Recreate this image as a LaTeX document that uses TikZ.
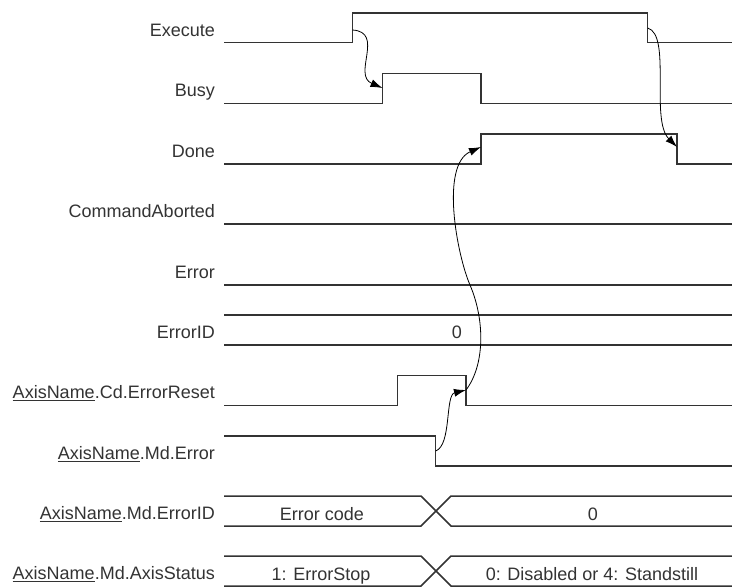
\documentclass[tikz,border=0pt]{standalone}
\usepackage{fontspec}
\setmainfont{Liberation Sans}
\usepackage{xcolor}
\usetikzlibrary{arrows.meta}

\definecolor{sigline}{HTML}{333333}
\newcommand{\axname}{\underline{AxisName}}

\begin{document}
\begin{tikzpicture}[
  x=1pt, y=-1pt,
  signal/.style={draw=sigline, line width=1.5pt},
  signame/.style={anchor=base east, inner sep=0pt, text=sigline, font=\fontsize{18}{20}\selectfont},
  busval/.style={anchor=base, inner sep=0pt, text=sigline, font=\fontsize{18}{20}\selectfont},
  cause/.style={-{Latex[length=12pt, width=8pt]}, line width=0.8pt, black}
]
  \useasboundingbox (0,0) rectangle (732,588);

  % Signal names
  \node[signame] (nExe)  at (215, 36.2)  {Execute};
  \node[signame] (nBusy) at (215, 96.8)  {Busy};
  \node[signame] (nDone) at (215, 157.5) {Done};
  \node[signame] (nAbt)  at (215, 217.5) {CommandAborted};
  \node[signame] (nErr)  at (215, 278.5) {Error};
  \node[signame] (nErrID) at (215, 338.5) {ErrorID};
  \node[signame] (nRst)  at (215, 399)   {\axname.Cd.ErrorReset};
  \node[signame] (nMdErr) at (215, 459.5) {\axname.Md.Error};
  \node[signame] (nMdID) at (215, 519.5) {\axname.Md.ErrorID};
  \node[signame] (nStat) at (215, 579.5) {\axname.Md.AxisStatus};

  % Bit signals
  \draw[signal] (224,42.7) -- (352.5,42.7) |- (647.7,13) |- (732,42.7);
  \draw[signal] (224,103.3) -- (382.7,103.3) |- (481,73.3) |- (732,103.3);
  \draw[signal] (224,164) -- (481,164) |- (677,134) |- (732,164);
  \draw[signal] (224,224) -- (732,224);
  \draw[signal] (224,285) -- (732,285);
  \draw[signal] (224,405.7) -- (397.7,405.7) |- (466,375.7) |- (732,405.7);
  \draw[signal] (224,436) -- (435.7,436) |- (732,466);

  % Word signals
  \draw[signal] (224,315) -- (732,315);
  \draw[signal] (224,345) -- (732,345);
  \node[busval] (vErrID) at (457, 339) {0};

  \draw[signal] (224,496) -- (421,496) -- (451,526) -- (732,526);
  \draw[signal] (224,526) -- (421,526) -- (451,496) -- (732,496);
  \node[busval] (vCode) at (322, 520) {Error code};
  \node[busval] (vZero) at (593, 520) {0};

  \draw[signal] (224,556) -- (421,556) -- (451,586) -- (732,586);
  \draw[signal] (224,586) -- (421,586) -- (451,556) -- (732,556);
  \node[busval] (vStop) at (321, 580) {1: ErrorStop};
  \node[busval] (vIdle) at (592, 580) {0: Disabled or 4: Standstill};

  % Edge points
  \coordinate (exeUp)    at (352.5,30);
  \coordinate (busyUp)   at (382.5,88);
  \coordinate (exeDown)  at (647.7,28);
  \coordinate (doneDown) at (677,147);
  \coordinate (errFall)  at (435.7,451);
  \coordinate (rstFall)  at (466,390);
  \coordinate (bend)     at (470,285);
  \coordinate (doneUp)   at (481,147);

  % Cause and effect
  \draw[cause] (exeUp) .. controls +(32.5,2) and +(-30.5,-13) .. (busyUp);
  \draw[cause] (exeDown) .. controls +(24,7) and +(-27,-27) .. (doneDown);
  \draw[cause] (errFall) .. controls +(16,-6) and +(-21,5) .. (rstFall);
  \draw[cause] (rstFall) .. controls +(19,-25) and +(15,35) .. (bend)
    .. controls +(-13,-30) and +(-41,18) .. (doneUp);

\end{tikzpicture}
\end{document}
